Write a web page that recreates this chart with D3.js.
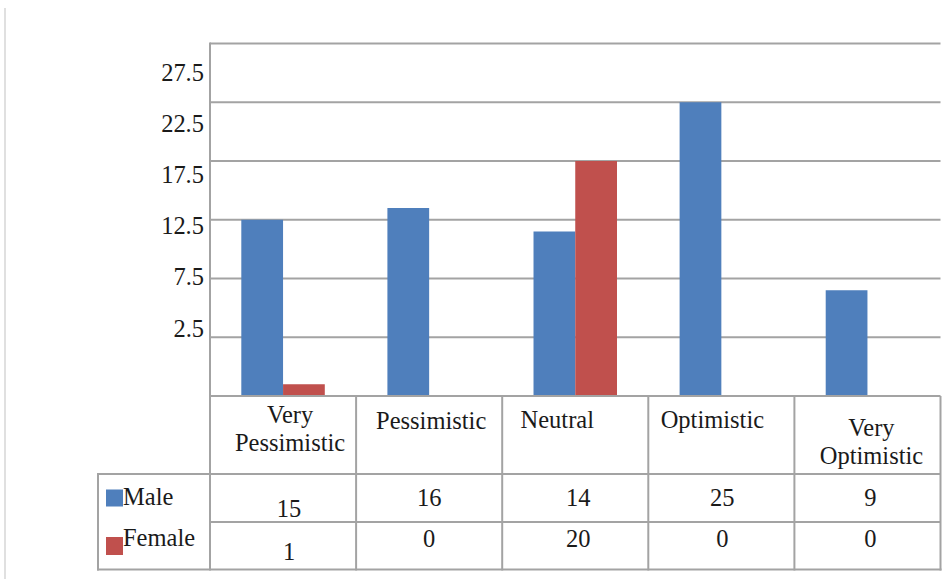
<!DOCTYPE html>
<html>
<head>
<meta charset="utf-8">
<script src="https://cdn.jsdelivr.net/npm/d3@7"></script>
<style>
  html, body { margin: 0; padding: 0; background: #fff; }
  svg { display: block; }
</style>
</head>
<body>
<svg id="chart" width="951" height="579" font-family="'Liberation Serif', Tinos, 'DejaVu Serif', serif"></svg>
<script>
// Outlook by gender
const categories = ["Very Pessimistic", "Pessimistic", "Neutral", "Optimistic", "Very Optimistic"];
const seriesNames = ["Male", "Female"];
const maleValues = [15, 16, 14, 25, 9];
const femaleValues = [1, 0, 20, 0, 0];
const gridValues = [5, 10, 15, 20, 25, 30];
const yTickLabels = ["27.5", "22.5", "17.5", "12.5", "7.5", "2.5"];

const colors = { Male: "#4f7fbc", Female: "#c0504d" };
const seriesValues = { Male: maleValues, Female: femaleValues };

// layout
const plotLeft = 210, plotRight = 940.5, plotTop = 43.5, plotBottom = 396;
const tableLeft = 98, headerBottom = 474, rowMid = 522, tableBottom = 569.5;
const gridColor = "#a3a3a3";
const textColor = "#1a1a1a";
const fontSize = 24.5;
const textStretch = 1.07;

// per-column text nudges inside the data table
const headerNudge = [
  { dx: 7, base: [423, 451] },
  { dx: 2, base: [429] },
  { dx: -18, base: [428] },
  { dx: -9, base: [428] },
  { dx: 4, base: [436, 464] }
];
const valueNudge = [
  { dx: 6, male: 517, female: 560 },
  { dx: 0, male: 506, female: 547 },
  { dx: 3, male: 506, female: 547 },
  { dx: 1, male: 506, female: 547 },
  { dx: 3, male: 506, female: 547 }
];

const svg = d3.select("#chart");

// places text at (x, y) baseline with a slight vertical stretch
function placeText(sel, fx, fy) {
  return sel.attr("x", 0).attr("y", 0)
    .attr("font-size", fontSize).attr("fill", textColor)
    .attr("transform", (d, i) => `translate(${fx(d, i)},${fy(d, i)}) scale(1,${textStretch})`);
}

const x = d3.scaleBand().domain(categories).range([plotLeft, plotRight]).paddingInner(0).paddingOuter(0);
const xs = d3.scaleBand().domain(seriesNames).range([0, x.bandwidth()]).paddingInner(0).paddingOuter(0.75);
const y = d3.scaleLinear().domain([0, 30]).range([plotBottom, plotTop]);
const yLabel = d3.scalePoint().domain(yTickLabels).range([81, 336.5]);

// faint frame line at the far left
svg.append("line").attr("x1", 5).attr("x2", 5).attr("y1", 8).attr("y2", 579)
  .attr("stroke", "#e0e0e0").attr("stroke-width", 2);

// horizontal gridlines
svg.append("g").selectAll("line").data(gridValues).join("line")
  .attr("x1", plotLeft).attr("x2", plotRight)
  .attr("y1", d => y(d)).attr("y2", d => y(d))
  .attr("stroke", gridColor).attr("stroke-width", 2);

// y tick labels
placeText(svg.append("g").selectAll("text").data(yTickLabels).join("text")
  .attr("text-anchor", "end").text(d => d), () => 204, d => yLabel(d));

// bars
const barGroups = svg.append("g").selectAll("g").data(categories).join("g")
  .attr("transform", d => `translate(${x(d)},0)`);
barGroups.selectAll("rect")
  .data((c, i) => seriesNames.map(s => ({ s, v: seriesValues[s][i] })))
  .join("rect")
  .attr("x", d => xs(d.s))
  .attr("width", xs.bandwidth())
  .attr("y", d => y(d.v))
  .attr("height", d => y(0) - y(d.v))
  .attr("fill", d => colors[d.s]);

// axis lines
svg.append("line").attr("x1", plotLeft).attr("x2", plotRight).attr("y1", plotBottom).attr("y2", plotBottom)
  .attr("stroke", gridColor).attr("stroke-width", 2);
svg.append("line").attr("x1", plotLeft).attr("x2", plotLeft).attr("y1", plotTop - 1).attr("y2", tableBottom + 1)
  .attr("stroke", gridColor).attr("stroke-width", 2);

// data table grid
const table = svg.append("g").attr("stroke", gridColor).attr("stroke-width", 2);
table.selectAll("line.col").data(categories).join("line")
  .attr("x1", d => x(d) + x.bandwidth()).attr("x2", d => x(d) + x.bandwidth())
  .attr("y1", plotBottom).attr("y2", tableBottom + 1);
table.append("line").attr("x1", tableLeft).attr("x2", plotRight).attr("y1", headerBottom).attr("y2", headerBottom);
table.append("line").attr("x1", plotLeft).attr("x2", plotRight).attr("y1", rowMid).attr("y2", rowMid);
table.append("line").attr("x1", tableLeft - 1).attr("x2", plotRight + 1).attr("y1", tableBottom).attr("y2", tableBottom);
table.append("line").attr("x1", tableLeft).attr("x2", tableLeft).attr("y1", headerBottom - 1).attr("y2", tableBottom + 1);

// category headers, one text per word line
const headerLines = [];
categories.forEach((c, i) => {
  c.split(" ").forEach((w, j) => headerLines.push({ c, i, j, w }));
});
placeText(svg.append("g").selectAll("text").data(headerLines).join("text")
  .attr("text-anchor", "middle").text(d => d.w),
  d => x(d.c) + x.bandwidth() / 2 + headerNudge[d.i].dx,
  d => headerNudge[d.i].base[d.j]);

// legend keys and series names
const legendRows = [
  { s: "Male", keyY: 489.5, keyH: 17, base: 505 },
  { s: "Female", keyY: 537, keyH: 18, base: 546 }
];
svg.append("g").selectAll("rect").data(legendRows).join("rect")
  .attr("x", 106).attr("y", d => d.keyY).attr("width", 17).attr("height", d => d.keyH)
  .attr("fill", d => colors[d.s]);
placeText(svg.append("g").selectAll("text").data(legendRows).join("text").text(d => d.s),
  () => 123, d => d.base);

// table values
seriesNames.forEach(s => {
  placeText(svg.append("g").selectAll("text").data(seriesValues[s]).join("text")
    .attr("text-anchor", "middle").text(v => v),
    (v, i) => x(categories[i]) + x.bandwidth() / 2 + valueNudge[i].dx,
    (v, i) => s === "Male" ? valueNudge[i].male : valueNudge[i].female);
});
</script>
</body>
</html>
